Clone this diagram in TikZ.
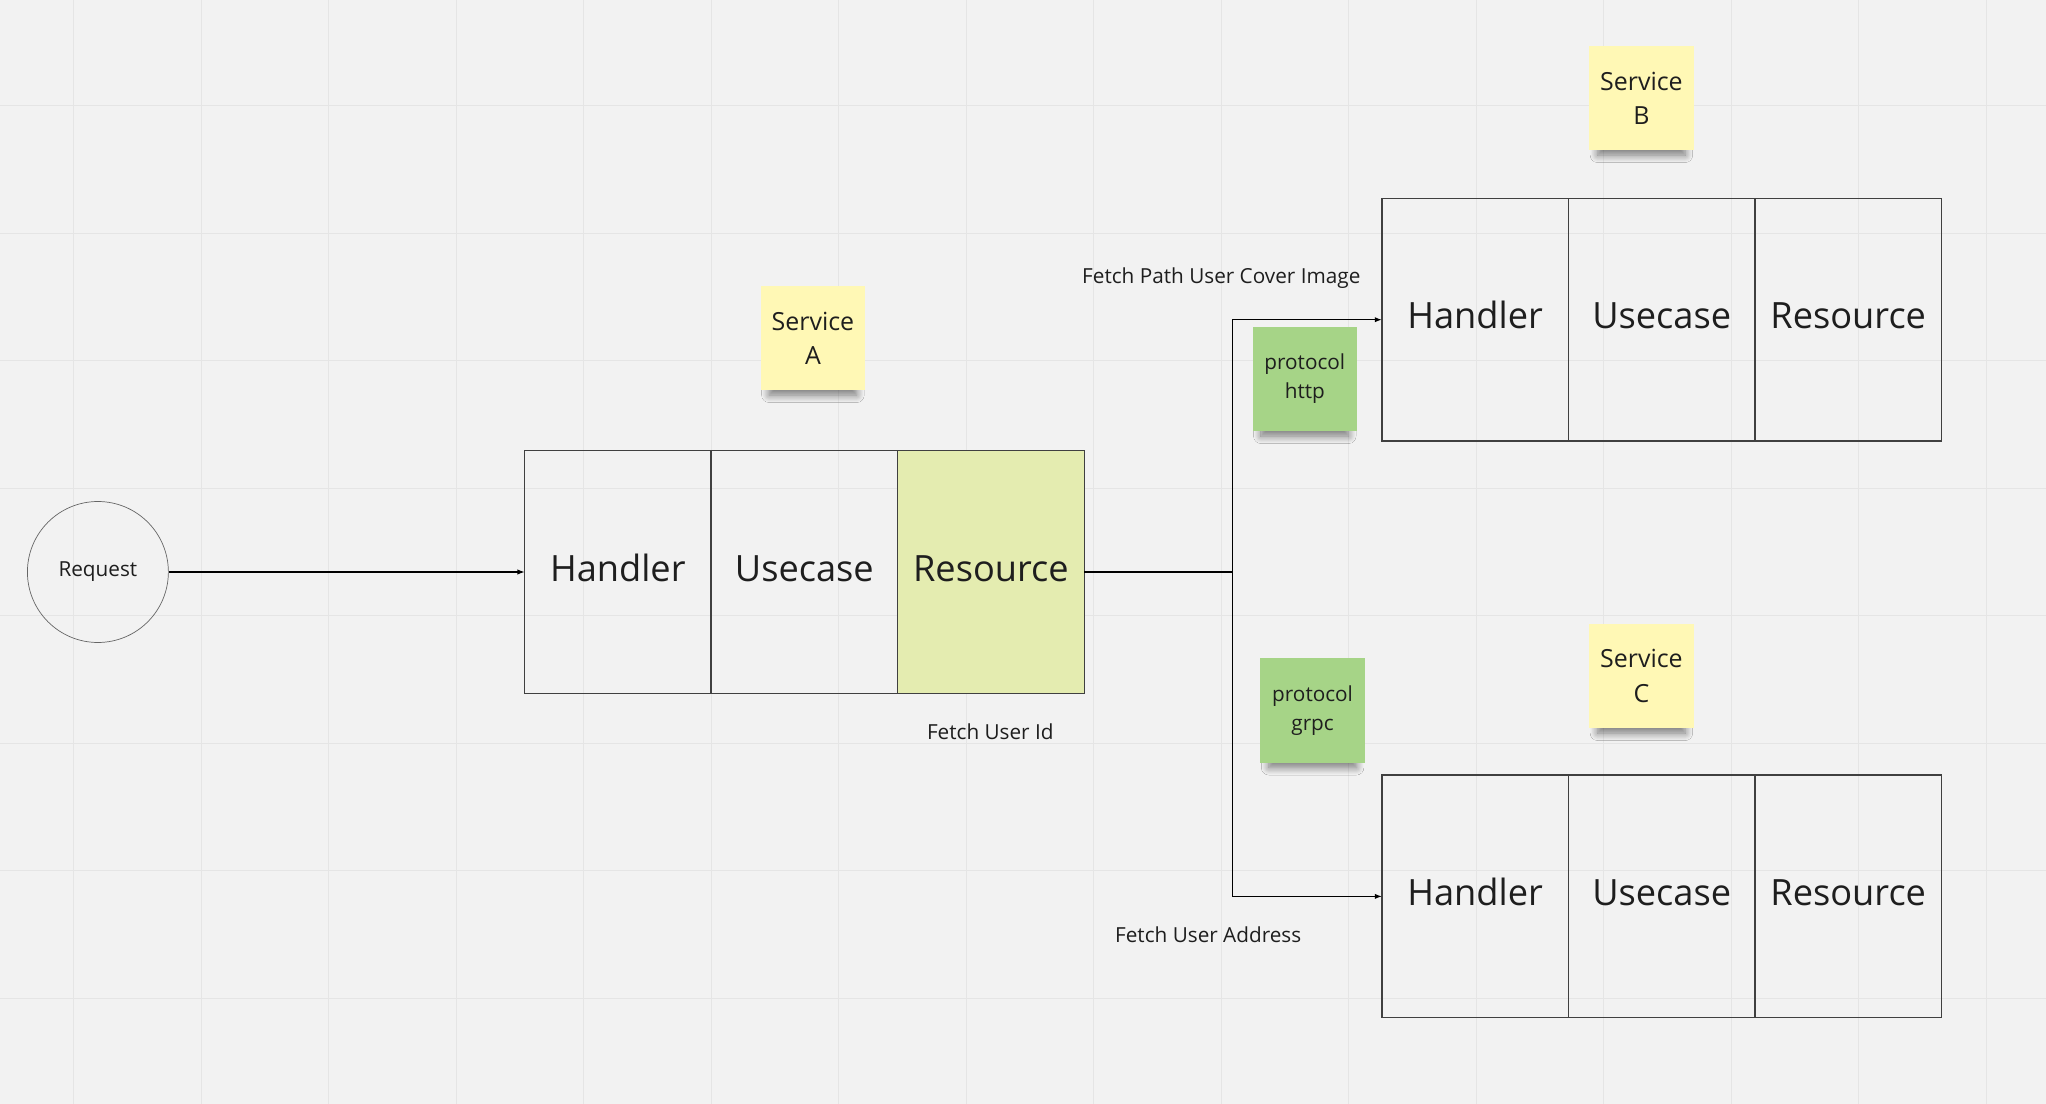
\documentclass[tikz,border=0pt]{standalone}
\usepackage{fontspec}
\setmainfont{Open Sans}
\usetikzlibrary{positioning,arrows.meta,shadows.blur}
\definecolor{board}{HTML}{F2F2F2}
\definecolor{gridline}{HTML}{E5E5E5}
\definecolor{stickyyellow}{HTML}{FFF8B5}
\definecolor{stickygreen}{HTML}{A6D487}
\definecolor{resfill}{HTML}{E4ECB0}
\definecolor{ink}{HTML}{1E1E1E}
\tikzset{
  request/.style={circle, draw=black!60, line width=0.4pt, minimum size=2.82cm, font=\fontsize{11.8}{14}\selectfont, text=ink},
  cell/.style={draw=black!75, line width=0.8pt, outer sep=0pt, inner sep=0pt, minimum width=3.732cm, minimum height=4.854cm,
    text height=1.04em, text depth=0pt, font=\fontsize{20.6}{24}\selectfont, text=ink},
  sticky/.style={fill=stickyyellow, minimum size=2.088cm, inner sep=0pt, align=center, font=\fontsize{14.2}{19.4}\selectfont, text=ink,
    blur shadow={shadow xshift=0pt, shadow yshift=-9pt, shadow scale=0.84, shadow blur radius=5pt, shadow blur steps=12, shadow opacity=50}},
  proto/.style={sticky, fill=stickygreen, font=\fontsize{11.8}{16.5}\selectfont},
  note/.style={font=\fontsize{11.8}{15}\selectfont, text=ink},
  link/.style={-{Latex[length=4pt,width=3pt]}, line width=0.6pt}
}
\begin{document}
\begin{tikzpicture}[x=0.02cm, y=-0.02cm]
  % Board and grid
  \fill[board] (0,0) rectangle (2046,1104);
  \useasboundingbox (0,0) rectangle (2046,1104);
  \foreach \gx in {0,...,15} \draw[gridline, line width=0.6pt] (73.9+127.5*\gx,0) -- ++(0,1104);
  \foreach \gy in {0,...,7} \draw[gridline, line width=0.6pt] (0,105.7+127.5*\gy) -- ++(2046,0);

  % Define nodes
  \node[request] (req) at (97.9,572) {Request};
  \node[cell] (ah) at (617.8,572) {Handler};
  \node[cell, right=0pt of ah] (au) {Usecase};
  \node[cell, fill=resfill, right=0pt of au] (ar) {Resource};
  \node[sticky] (sa) at (812.9,338) {Service\\A};
  \node[note] (idnote) at (990.3,732) {Fetch User Id};

  \node[cell] (bh) at (1475.1,319.7) {Handler};
  \node[cell, right=0pt of bh] (bu) {Usecase};
  \node[cell, right=0pt of bu] (br) {Resource};
  \node[sticky] (sb) at (1641.4,98) {Service\\B};
  \node[proto] (http) at (1304.8,379) {protocol\\http};
  \node[note] (imgnote) at (1221.3,278.5) {Fetch Path User Cover Image};

  \node[cell] (ch) at (1475.1,896.4) {Handler};
  \node[cell, right=0pt of ch] (cu) {Usecase};
  \node[cell, right=0pt of cu] (cr) {Resource};
  \node[sticky] (sc) at (1641.4,676) {Service\\C};
  \node[proto] (grpc) at (1312.6,710.5) {protocol\\grpc};
  \node[note] (addrnote) at (1208.2,934.8) {Fetch User Address};

  % Connect nodes
  \draw[link] (req) -- (ah);
  \coordinate[right=2.974cm of ar.east] (fork);
  \draw[line width=0.6pt] (ar.east) -- (fork);
  \draw[link] (fork) |- (bh.west);
  \draw[link] (fork) |- (ch.west);
\end{tikzpicture}
\end{document}
